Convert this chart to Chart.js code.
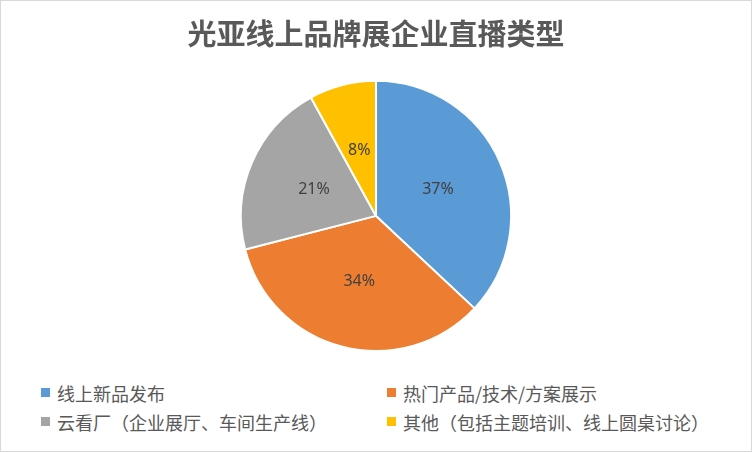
<!DOCTYPE html>
<html>
<head>
<meta charset="utf-8">
<script src="https://cdn.jsdelivr.net/npm/chart.js@4/dist/chart.umd.min.js"></script>
<style>
  body { margin: 0; background: #fff; }
  #frame { position: absolute; left: 0; top: 0; width: 752px; height: 452px; box-sizing: border-box; border: 1px solid #d9d9d9; }
  #chartBox { position: absolute; left: 0; top: 0; width: 752px; height: 365px; }
  #legend { position: absolute; left: 41px; top: 378px; display: grid; grid-template-columns: 346px auto; grid-auto-rows: 29px;
            font-family: "Noto Sans CJK SC", sans-serif; font-size: 18px; color: #595959; }
  .item { display: flex; align-items: center; white-space: nowrap; }
  .box { width: 9px; height: 9px; margin-right: 7px; flex: none; }
</style>
</head>
<body>
<div id="frame"></div>
<div id="chartBox"><canvas id="pieChart"></canvas></div>
<div id="legend"></div>
<script>
// dados do gráfico
const titulo = '光亚线上品牌展企业直播类型';
const categorias = ['线上新品发布', '热门产品/技术/方案展示', '云看厂（企业展厅、车间生产线）', '其他（包括主题培训、线上圆桌讨论）'];
const percentuais = [37, 34, 21, 8];
const cores = ['#5B9BD5', '#ED7D31', '#A5A5A5', '#FFC000'];

// rótulos de porcentagem dentro das fatias
const rotulosPlugin = {
  id: 'rotulos',
  afterDatasetsDraw(chart) {
    const ctx = chart.ctx;
    const meta = chart.getDatasetMeta(0);
    ctx.save();
    ctx.font = '16px "Noto Sans", sans-serif';
    ctx.fillStyle = '#404040';
    ctx.textAlign = 'center';
    ctx.textBaseline = 'middle';
    meta.data.forEach((arc, i) => {
      const pos = arc.tooltipPosition();
      ctx.fillText(percentuais[i] + '%', pos.x, pos.y);
    });
    ctx.restore();
  }
};

const ctx = document.getElementById('pieChart').getContext('2d');
new Chart(ctx, {
  type: 'pie',
  data: {
    labels: categorias,
    datasets: [{
      data: percentuais,
      backgroundColor: cores,
      borderColor: '#ffffff',
      borderWidth: 2,
      hoverOffset: 0
    }]
  },
  options: {
    responsive: true,
    maintainAspectRatio: false,
    animation: false,
    layout: { padding: { bottom: 13 } },
    plugins: {
      legend: { display: false },
      tooltip: { enabled: false },
      title: {
        display: true,
        text: titulo,
        color: '#595959',
        font: { family: '"Noto Sans CJK SC", sans-serif', size: 29, weight: 'bold' },
        padding: { top: 17, bottom: 28 }
      }
    }
  },
  plugins: [rotulosPlugin]
});

// legenda em duas colunas
const legendaDiv = document.getElementById('legend');
categorias.forEach((nome, i) => {
  const el = document.createElement('div');
  el.className = 'item';
  el.innerHTML = `<span class="box" style="background:${cores[i]}"></span><span>${nome}</span>`;
  legendaDiv.appendChild(el);
});
</script>
</body>
</html>
